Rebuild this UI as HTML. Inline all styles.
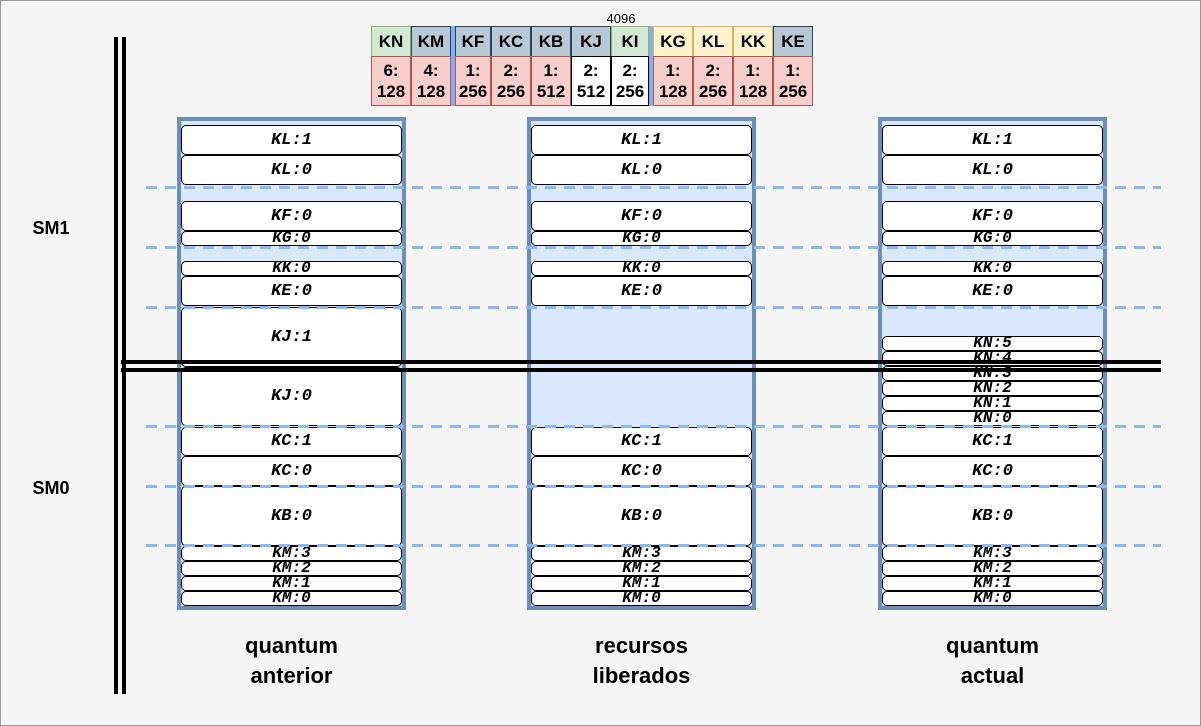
<!DOCTYPE html>
<html><head><meta charset="utf-8"><style>
body{margin:0;width:1201px;height:726px;overflow:hidden;background:#fff;font-family:"Liberation Sans",sans-serif}
#page{position:absolute;left:0;top:0;width:1199px;height:724px;background:#f5f5f5;border:1px solid #999}
.a{position:absolute;box-sizing:border-box}
.col{border:4px solid #6c8ebf;background:#dae8fc}
.box{background:#fff;border:1px solid #000;border-radius:5px;font-family:"Liberation Mono",monospace;font-weight:bold;font-style:italic;font-size:17px;text-align:center;display:flex;align-items:center;justify-content:center;overflow:visible;white-space:nowrap}
.dash{height:3px;background:repeating-linear-gradient(90deg,#8ab8f7 0 11px,transparent 11px 19px)}
.bar{background:#000}
.th,.td{font-weight:bold;text-align:center;display:flex;align-items:center;justify-content:center;font-size:17px}
.td{line-height:21px}
.lbl{font-weight:bold;font-size:22px;text-align:center;line-height:30px}
</style></head><body>
<div id="page"></div>
<script>
const page=document.getElementById('page');
function mk(cls,x,y,w,h,txt){const d=document.createElement('div');d.className='a '+cls;d.style.left=x+'px';d.style.top=y+'px';d.style.width=w+'px';d.style.height=h+'px';if(txt!==undefined)d.innerHTML=txt;page.appendChild(d);return d;}
// table
const heads=['KN','KM','KF','KC','KB','KJ','KI','KG','KL','KK','KE'];
const vals=['6:<br>128','4:<br>128','1:<br>256','2:<br>256','1:<br>512','2:<br>512','2:<br>256','1:<br>128','2:<br>256','1:<br>128','1:<br>256'];
const hcol={KN:['#d5e8d4','#82b366'],KI:['#d5e8d4','#82b366'],KG:['#fff2cc','#d6b656'],KL:['#fff2cc','#d6b656'],KK:['#fff2cc','#d6b656']};
const xs=[370,410,454,490,530,570,610,652,692,732,772];
heads.forEach((h,i)=>{const w=(i<10?xs[i+1]:812)-xs[i]-((i==1||i==6)?4:0);
 const c=hcol[h]||['#bac8d3','#23445d'];
 const t=mk('th',xs[i],25,w,31,h);t.style.background=c[0];t.style.border='1px solid '+c[1];
 
 
 const white=(h=='KJ'||h=='KI');
 const v=mk('td',xs[i],55,w,50,vals[i]);v.style.background=white?'#fff':'#f8cecc';v.style.border='1px solid '+(white?'#000':'#b85450');
 
 
});
[450,648].forEach(x=>{const s=mk('',x,25,4,80);s.style.background='#7eb0f5';
 
 });
const t4=mk('',595,10,50,16,'4096');t4.style.fontSize='13px';t4.style.textAlign='center';


// columns
const cols=[176,526,877];
const common=[['KL:1',124,30],['KL:0',154,30],['KF:0',200,30],['KG:0',230,15],['KK:0',260,15],['KE:0',275,30],['KC:1',426,29],['KC:0',455,30],['KB:0',485,60],['KM:3',545,15],['KM:2',560,15],['KM:1',575,15],['KM:0',590,15]];
const extra=[[['KJ:1',306,60],['KJ:0',366,59]],[],[['KN:5',335,15],['KN:4',350,15],['KN:3',365,15],['KN:2',380,15],['KN:1',395,15],['KN:0',410,15]]];
cols.forEach((cx,ci)=>{const c=mk('col',cx,116,229,493);
 
 
 common.concat(extra[ci]).forEach(b=>{const e=mk('box',cx+4,b[1],221,b[2],b[0]);
  if(b[2]<20){e.style.fontSize='16px';e.style.lineHeight='13px';}
  
  });
});
[185,245,305,424,484,543].forEach(y=>{const d=mk('dash',145,y,1015,3);
 
 });
// bars
[[113,36,4,657],[121,36,4,657],[120,359,1040,4],[120,367,1040,4]].forEach(b=>{const e=mk('bar',b[0],b[1],b[2],b[3]);
 
 });
const s1=mk('lbl',20,212,60,30,'SM1');s1.style.fontSize='18px';


const s0=mk('lbl',20,472,60,30,'SM0');s0.style.fontSize='18px';


const names=['quantum<br>anterior','recursos<br>liberados','quantum<br>actual'];
cols.forEach((cx,i)=>{const l=mk('lbl',cx-30,630,289,62,names[i]);
 
 });
</script>
</body></html>
